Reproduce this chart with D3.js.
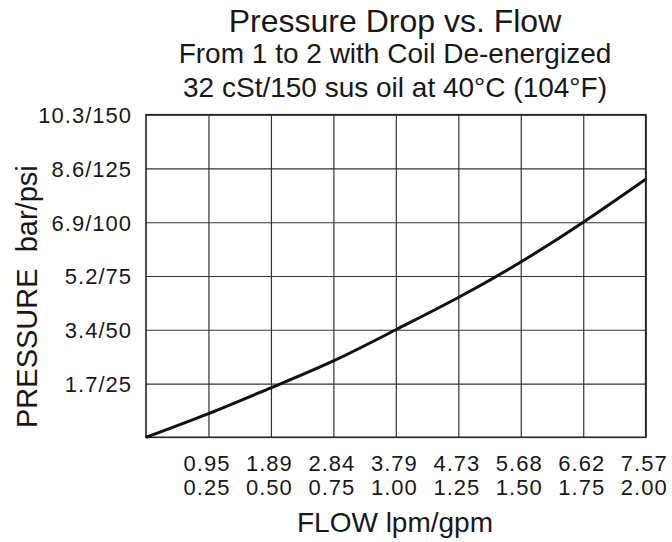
<!DOCTYPE html>
<html>
<head>
<meta charset="utf-8">
<script src="https://cdn.jsdelivr.net/npm/d3@7"></script>
<style>
  html, body { margin: 0; padding: 0; background: #fff; }
  svg { display: block; }
  text { font-family: "Liberation Sans", Arial, Helvetica, sans-serif; fill: #1a1718; }
</style>
</head>
<body>
<svg id="chart" width="672" height="542"></svg>
<script>
// ---- data ----
const titleLines = ["Pressure Drop vs. Flow", "From 1 to 2 with Coil De-energized", "32 cSt/150 sus oil at 40\u00b0C (104\u00b0F)"];
const flowGpm = [0, 0.25, 0.5, 0.75, 1.0, 1.25, 1.5, 1.75, 2.0];
const pressurePsi = [0, 11, 23, 35.5, 50, 65, 81.5, 100, 120];
const gpmTicks = [0.25, 0.5, 0.75, 1.0, 1.25, 1.5, 1.75, 2.0];
const gpmLabels = ["0.25", "0.50", "0.75", "1.00", "1.25", "1.50", "1.75", "2.00"];
const lpmLabels = ["0.95", "1.89", "2.84", "3.79", "4.73", "5.68", "6.62", "7.57"];
const psiTicks = [25, 50, 75, 100, 125, 150];
const pressureLabels = ["1.7/25", "3.4/50", "5.2/75", "6.9/100", "8.6/125", "10.3/150"];
const xTitle = "FLOW lpm/gpm";
const yTitle = "PRESSURE\u00a0\u00a0bar/psi";

// ---- layout ----
const FONT = '"Liberation Sans", Arial, Helvetica, sans-serif';
const TXT = "#1a1718";
const mLeft = 146, mRight = 645.7, mTop = 114.7, mBottom = 437.3;
const svg = d3.select("#chart");

const x = d3.scaleLinear().domain([0, 2]).range([mLeft, mRight]);
const y = d3.scaleLinear().domain([0, 150]).range([mBottom, mTop]);

// Title
svg.selectAll("text.title").data(titleLines).join("text")
  .attr("class", "title")
  .attr("x", 395)
  .attr("y", (d, i) => [32, 63, 97][i])
  .attr("text-anchor", "middle")
  .attr("font-family", FONT)
  .attr("font-size", (d, i) => i === 0 ? 32 : 28)
  .text(d => d);

// Gridlines via axes
const gridColor = "#333";
const gx = svg.append("g").attr("transform", `translate(0,${mBottom})`)
  .call(d3.axisBottom(x).tickValues(gpmTicks).tickSize(-(mBottom - mTop)).tickFormat(""));
gx.select(".domain").remove();
gx.selectAll("line").attr("stroke", gridColor).attr("stroke-width", 1.2);

const gy = svg.append("g").attr("transform", `translate(${mLeft},0)`)
  .call(d3.axisLeft(y).tickValues(psiTicks).tickSize(-(mRight - mLeft)).tickFormat(""));
gy.select(".domain").remove();
gy.selectAll("line").attr("stroke", gridColor).attr("stroke-width", 1.2);

// Frame
svg.append("rect")
  .attr("x", x(0)).attr("y", y(150))
  .attr("width", x(2) - x(0)).attr("height", y(0) - y(150))
  .attr("fill", "none").attr("stroke", "#222").attr("stroke-width", 1.6);

// Curve
const pts = flowGpm.map((g, i) => [g, pressurePsi[i]]);
svg.append("path")
  .datum(pts)
  .attr("fill", "none")
  .attr("stroke", "#111")
  .attr("stroke-width", 3)
  .attr("d", d3.line().x(d => x(d[0])).y(d => y(d[1])).curve(d3.curveNatural));

// X tick labels (two rows)
function xRow(labels, yPos) {
  const g = svg.append("g").attr("transform", `translate(0,${yPos})`)
    .call(d3.axisBottom(x).tickValues(gpmTicks).tickSize(0).tickPadding(0)
      .tickFormat((d, i) => labels[i]));
  g.attr("font-family", FONT);
  g.select(".domain").remove();
  g.selectAll("text")
    .attr("y", 0).attr("dy", 0).attr("dx", -2)
    .attr("font-family", FONT)
    .attr("font-size", 22).attr("letter-spacing", 1)
    .attr("fill", TXT);
}
xRow(lpmLabels, 471);
xRow(gpmLabels, 495);

// Y tick labels
const ya = svg.append("g").attr("transform", `translate(${mLeft - 14},0)`)
  .call(d3.axisLeft(y).tickValues(psiTicks).tickSize(0).tickPadding(0)
    .tickFormat((d, i) => pressureLabels[i]));
ya.attr("font-family", FONT);
ya.select(".domain").remove();
ya.selectAll("text")
  .attr("x", 0).attr("dy", "0.36em")
  .attr("font-family", FONT)
  .attr("font-size", 22).attr("letter-spacing", 1)
  .attr("fill", TXT);

// Axis titles
svg.append("text")
  .attr("x", 395).attr("y", 532)
  .attr("text-anchor", "middle")
  .attr("font-family", FONT)
  .attr("font-size", 28)
  .text(xTitle);

svg.append("text")
  .attr("transform", "translate(37,428) rotate(-90)")
  .attr("text-anchor", "start")
  .attr("font-family", FONT)
  .attr("font-size", 29)
  .text(yTitle);
</script>
</body>
</html>
